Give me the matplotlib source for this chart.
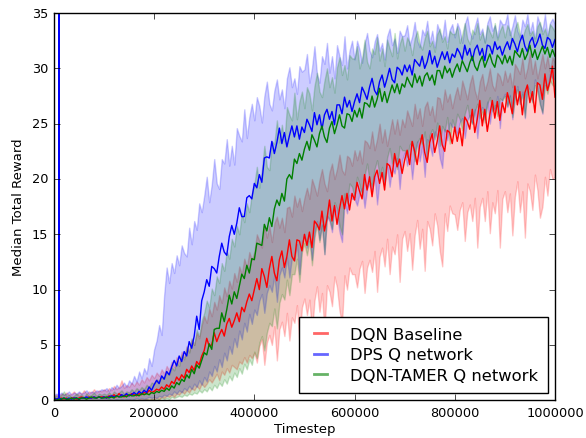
import numpy as np
import matplotlib
matplotlib.use('Agg')
import matplotlib.pyplot as plt
from matplotlib.lines import Line2D

# timesteps at which the median reward was logged (every 5000 steps)
timesteps = np.arange(0, 1000001, 5000)

# DQN Baseline (red): median and band
dqn_median = [
    0.0, 0.1, 0.1, 0.2, 0.1, 0.2, 0.1, 0.2, 0.2, 0.1, 0.2, 0.3, 0.2, 0.2, 0.3, 0.2, 0.3, 0.2, 0.3, 0.3,
    0.3, 0.2, 0.4, 0.3, 0.5, 0.3, 0.6, 0.4, 0.3, 0.5, 0.4, 0.6, 0.5, 0.4, 0.6, 0.5, 0.7, 0.6, 0.9, 0.7,
    0.8, 1.0, 0.9, 1.2, 1.0, 1.4, 1.2, 1.7, 1.5, 2.1, 1.8, 2.3, 2.0, 2.8, 2.5, 3.1, 2.7, 3.5, 3.2, 4.0,
    4.5, 5.6, 4.9, 5.0, 6.1, 5.3, 5.9, 6.4, 5.8, 6.9, 7.4, 6.6, 7.2, 7.9, 7.1, 8.4, 8.0, 8.9, 9.6, 9.0,
    10.0, 11.0, 10.0, 11.9, 11.2, 10.2, 11.9, 13.0, 11.5, 10.8, 12.7, 13.5, 12.0, 13.0, 14.5, 13.0, 12.6, 14.5, 14.4, 13.5,
    15.0, 14.0, 15.2, 13.8, 16.2, 15.9, 15.4, 17.1, 15.3, 16.4, 18.1, 16.2, 17.6, 15.9, 17.3, 18.5, 17.3, 18.7, 17.2, 18.7,
    18.1, 19.7, 18.9, 18.2, 20.4, 19.0, 20.2, 18.4, 20.2, 20.8, 19.6, 20.6, 19.0, 21.4, 21.2, 20.2, 22.3, 21.1, 21.8, 20.5,
    21.7, 22.6, 21.3, 23.4, 22.5, 21.3, 23.0, 24.0, 22.4, 21.5, 23.3, 24.1, 22.4, 23.4, 24.8, 23.1, 22.5, 24.4, 24.2, 23.2,
    24.7, 23.4, 24.6, 23.0, 25.6, 25.2, 24.5, 26.3, 24.2, 25.4, 27.1, 24.8, 26.3, 24.3, 25.8, 27.1, 25.5, 27.0, 25.3, 26.9,
    26.0, 27.8, 26.9, 25.9, 28.4, 26.7, 27.9, 25.8, 27.8, 28.5, 26.9, 27.9, 26.0, 28.7, 28.5, 27.2, 29.5, 28.0, 28.8, 30.2,
    27.4]
dqn_low = [
    0.0, 0.0, 0.0, 0.0, 0.0, 0.0, 0.0, 0.0, 0.0, 0.0, 0.0, 0.0, 0.0, 0.0, 0.0, 0.0, 0.0, 0.0, 0.0, 0.0,
    0.0, 0.0, 0.0, 0.0, 0.0, 0.0, 0.0, 0.0, 0.0, 0.0, 0.0, 0.0, 0.0, 0.0, 0.0, 0.1, 0.0, 0.1, 0.0, 0.1,
    0.1, 0.2, 0.1, 0.3, 0.2, 0.4, 0.3, 0.5, 0.3, 0.6, 0.5, 0.8, 0.6, 0.9, 0.7, 1.1, 0.9, 1.3, 1.0, 1.5,
    1.2, 1.5, 1.9, 1.6, 2.0, 2.4, 1.8, 2.6, 2.3, 2.9, 2.5, 3.2, 3.0, 2.8, 3.5, 3.3, 3.9, 3.4, 4.1, 3.8,
    4.3, 3.4, 4.9, 5.5, 3.2, 5.2, 5.9, 5.0, 6.7, 3.6, 6.4, 7.1, 5.8, 7.9, 5.4, 7.5, 7.0, 8.6, 5.1, 8.4,
    9.2, 7.7, 9.1, 6.1, 9.0, 10.3, 8.0, 9.7, 6.2, 10.4, 9.8, 8.5, 11.2, 10.2, 8.1, 6.9, 11.3, 10.0, 12.0, 11.4,
    11.4, 10.2, 11.9, 12.6, 9.7, 12.0, 12.7, 11.6, 13.5, 9.8, 13.0, 13.8, 12.1, 14.6, 11.4, 13.9, 13.2, 15.0, 10.7, 14.6,
    15.3, 13.5, 15.1, 11.8, 14.9, 16.3, 13.7, 15.5, 11.7, 16.2, 15.5, 14.0, 16.9, 15.8, 13.5, 12.1, 16.9, 15.3, 17.6, 16.9,
    16.8, 15.4, 17.2, 17.9, 14.4, 17.0, 17.7, 16.2, 18.3, 13.8, 17.5, 18.3, 16.2, 18.9, 15.1, 17.9, 16.9, 19.0, 13.8, 18.2,
    18.9, 17.0, 18.7, 14.9, 18.4, 19.8, 17.0, 18.9, 14.7, 19.6, 18.9, 17.2, 20.4, 19.0, 16.5, 17.5, 20.2, 18.5, 20.9, 20.0,
    20.2]
dqn_high = [
    0.4, 0.5, 0.4, 0.6, 0.5, 0.7, 0.5, 0.6, 0.8, 0.5, 0.7, 0.6, 0.9, 0.6, 0.8, 0.7, 1.0, 0.7, 0.9, 0.8,
    1.0, 0.8, 1.1, 0.9, 1.3, 1.0, 1.2, 1.8, 1.1, 1.4, 1.2, 1.6, 1.3, 1.7, 1.4, 1.9, 1.6, 2.1, 1.8, 2.3,
    2.0, 2.5, 2.2, 2.8, 2.4, 3.1, 2.7, 3.5, 3.0, 3.9, 3.4, 4.4, 3.9, 4.9, 4.4, 5.5, 5.0, 6.1, 5.6, 6.8,
    7.6, 7.0, 8.3, 7.6, 8.9, 8.2, 9.5, 8.8, 10.2, 9.4, 10.8, 10.1, 11.5, 10.7, 12.1, 11.4, 12.8, 12.0, 13.4, 12.7,
    13.4, 15.0, 14.4, 13.8, 15.9, 14.7, 15.8, 14.3, 16.0, 16.6, 15.6, 16.5, 15.2, 17.4, 17.5, 16.6, 18.5, 17.5, 18.3, 17.1,
    18.3, 19.2, 18.2, 20.0, 19.3, 18.5, 19.9, 20.9, 19.6, 18.9, 20.6, 21.4, 20.0, 20.9, 22.2, 20.8, 20.4, 22.1, 21.9, 21.2,
    22.6, 21.7, 22.6, 21.4, 23.5, 23.3, 22.8, 24.3, 22.6, 23.6, 25.0, 23.3, 24.5, 23.0, 24.2, 25.4, 24.1, 25.4, 24.0, 25.4,
    24.7, 26.2, 25.5, 24.8, 26.8, 25.5, 26.4, 24.8, 26.5, 27.0, 25.8, 26.6, 25.2, 27.4, 27.3, 26.3, 28.1, 27.0, 27.7, 26.4,
    27.5, 28.3, 27.2, 28.9, 28.1, 27.2, 28.6, 29.4, 28.0, 27.2, 28.8, 29.5, 28.0, 28.8, 30.0, 28.5, 28.0, 29.6, 29.3, 28.5,
    29.8, 28.8, 29.6, 28.3, 30.4, 30.0, 29.5, 30.9, 29.1, 30.0, 31.4, 29.5, 30.7, 29.1, 30.2, 31.3, 30.0, 31.1, 29.7, 31.0,
    30.5]

# DPS Q network (blue)
dps_median = [
    0.2, 0.1, 0.2, 0.1, 0.2, 0.1, 0.2, 0.1, 0.2, 0.2, 0.1, 0.2, 0.2, 0.3, 0.2, 0.2, 0.3, 0.2, 0.3, 0.2,
    0.3, 0.2, 0.3, 0.4, 0.3, 0.4, 0.3, 0.5, 0.4, 0.6, 0.4, 0.5, 0.7, 0.5, 0.8, 0.6, 0.9, 0.7, 1.2, 0.9,
    1.4, 1.8, 1.5, 2.2, 1.9, 2.6, 2.3, 3.0, 3.6, 3.1, 4.0, 3.5, 4.4, 4.0, 5.3, 4.7, 5.8, 7.6, 6.4, 9.0,
    9.8, 10.9, 10.3, 12.1, 11.9, 11.5, 13.0, 14.2, 13.4, 13.1, 14.8, 15.8, 15.0, 16.0, 17.4, 16.6, 16.6, 18.3, 18.5, 18.2,
    19.6, 19.2, 20.4, 19.7, 21.9, 22.0, 21.9, 23.4, 22.3, 23.3, 24.6, 23.2, 24.2, 22.9, 23.9, 24.8, 23.8, 24.8, 23.6, 24.7,
    24.2, 25.4, 24.9, 24.3, 26.0, 24.9, 25.8, 24.5, 25.8, 26.3, 25.4, 26.1, 24.9, 26.7, 26.7, 25.9, 27.4, 26.5, 27.1, 26.1,
    27.0, 27.7, 26.9, 28.3, 27.8, 27.2, 28.3, 29.1, 28.0, 27.6, 28.8, 29.4, 28.3, 29.1, 30.0, 29.0, 28.7, 30.1, 29.9, 29.4,
    30.3, 29.7, 30.3, 29.4, 30.8, 30.5, 30.2, 31.1, 30.0, 30.6, 31.6, 30.4, 31.1, 30.1, 30.8, 31.5, 30.8, 31.5, 30.5, 31.3,
    31.0, 31.8, 31.4, 30.8, 32.1, 31.2, 31.8, 30.7, 31.7, 32.1, 31.2, 31.8, 30.7, 32.1, 32.0, 31.3, 32.4, 31.7, 32.0, 31.2,
    31.9, 32.4, 31.7, 32.7, 32.2, 31.5, 32.4, 33.0, 32.0, 31.5, 32.4, 32.8, 31.9, 32.4, 33.1, 32.1, 31.8, 32.8, 32.6, 31.9,
    32.6]
dps_low = [
    0.0, 0.0, 0.0, 0.0, 0.0, 0.0, 0.0, 0.0, 0.0, 0.0, 0.0, 0.0, 0.0, 0.0, 0.0, 0.0, 0.0, 0.0, 0.0, 0.0,
    0.0, 0.0, 0.1, 0.0, 0.0, 0.1, 0.0, 0.1, 0.0, 0.1, 0.1, 0.0, 0.1, 0.2, 0.1, 0.2, 0.1, 0.2, 0.3, 0.2,
    0.3, 0.2, 0.4, 0.3, 0.5, 0.4, 0.6, 0.5, 0.8, 0.6, 0.9, 0.7, 1.1, 0.9, 1.3, 1.0, 1.5, 1.2, 1.8, 1.4,
    2.1, 1.7, 2.6, 2.2, 3.1, 2.6, 3.7, 3.0, 4.3, 3.6, 4.9, 4.2, 5.6, 4.8, 6.3, 5.5, 7.0, 6.2, 7.8, 6.9,
    8.2, 7.7, 9.0, 9.6, 7.9, 9.7, 10.4, 9.8, 11.3, 8.9, 11.3, 12.0, 11.1, 12.9, 11.1, 12.9, 12.6, 14.1, 11.4, 14.2,
    15.0, 13.8, 15.0, 12.7, 15.1, 16.2, 14.5, 15.9, 13.2, 16.6, 16.2, 15.2, 17.5, 16.8, 15.2, 14.3, 17.9, 16.9, 18.6, 18.2,
    18.2, 17.6, 18.7, 19.2, 17.4, 19.1, 19.6, 18.9, 20.3, 17.7, 20.0, 20.6, 19.5, 21.2, 19.3, 21.0, 20.5, 21.9, 19.1, 21.7,
    22.4, 21.2, 22.3, 20.0, 22.3, 23.4, 21.6, 23.0, 20.2, 23.6, 23.1, 22.1, 24.3, 23.6, 21.9, 21.0, 24.5, 23.5, 25.1, 24.7,
    24.7, 24.0, 25.1, 25.5, 23.7, 25.3, 25.8, 25.0, 26.3, 23.7, 26.0, 26.5, 25.4, 27.0, 25.0, 26.6, 26.2, 27.5, 24.6, 27.2,
    27.7, 26.5, 27.6, 25.4, 27.5, 28.4, 26.8, 27.9, 25.5, 28.4, 28.0, 27.0, 29.0, 28.2, 26.8, 25.9, 29.0, 28.1, 29.5, 29.1,
    29.0]
dps_high = [
    0.5, 0.6, 0.5, 0.7, 0.5, 0.6, 0.8, 0.5, 0.7, 0.6, 0.8, 0.6, 0.7, 0.9, 0.6, 0.8, 0.7, 0.9, 0.8, 1.0,
    0.9, 1.1, 0.8, 1.2, 1.0, 1.4, 1.1, 1.3, 1.6, 1.2, 1.8, 1.5, 2.2, 1.7, 2.6, 2.0, 2.9, 2.4, 3.8, 3.1,
    4.6, 5.4, 6.8, 5.9, 9.5, 12.0, 10.6, 12.4, 11.5, 13.1, 12.2, 14.0, 13.3, 13.0, 15.6, 14.1, 16.2, 15.4, 17.8, 17.0,
    18.5, 20.2, 17.9, 19.5, 21.8, 19.6, 19.1, 21.8, 21.4, 23.6, 21.2, 23.0, 21.3, 24.6, 23.9, 23.4, 26.3, 23.7, 25.6, 26.8,
    25.3, 27.4, 26.6, 25.1, 27.5, 28.8, 26.8, 26.2, 28.0, 29.0, 27.2, 28.1, 26.4, 29.1, 30.1, 28.3, 29.1, 27.7, 30.2, 29.7,
    29.9, 31.3, 28.7, 30.0, 32.0, 29.5, 28.7, 31.1, 30.4, 32.3, 29.6, 31.1, 29.1, 32.1, 31.1, 30.3, 32.9, 30.0, 31.6, 32.5,
    30.8, 32.5, 31.7, 30.5, 32.2, 33.2, 31.6, 31.0, 32.4, 33.1, 31.6, 32.3, 30.8, 32.9, 33.6, 32.1, 32.7, 31.4, 33.4, 32.9,
    33.0, 33.9, 32.1, 32.9, 34.2, 32.5, 31.9, 33.5, 33.0, 34.3, 32.3, 33.4, 31.9, 34.0, 33.3, 32.7, 34.4, 32.4, 33.5, 34.0,
    32.8, 34.1, 33.5, 32.3, 34.0, 34.7, 33.3, 32.7, 33.8, 34.6, 33.1, 33.6, 32.4, 34.1, 34.7, 33.4, 33.9, 32.8, 34.4, 34.0,
    34.0, 34.9, 33.0, 33.8, 34.8, 33.4, 32.8, 34.4, 33.8, 34.9, 33.2, 34.2, 32.7, 34.7, 34.0, 33.4, 34.9, 33.0, 34.1, 34.5,
    34.0]
# one logged reward spike early in the DPS run
dps_glitch_step = 10000
dps_glitch_reward = 5000.0

# DQN-TAMER Q network (green)
tamer_median = [
    0.1, 0.0, 0.1, 0.1, 0.2, 0.1, 0.1, 0.2, 0.1, 0.2, 0.1, 0.2, 0.2, 0.1, 0.2, 0.3, 0.2, 0.2, 0.3, 0.2,
    0.2, 0.3, 0.2, 0.3, 0.2, 0.4, 0.3, 0.3, 0.4, 0.3, 0.5, 0.4, 0.4, 0.5, 0.4, 0.6, 0.5, 0.6, 0.5, 0.7,
    0.6, 0.8, 0.7, 0.9, 0.8, 1.1, 0.9, 1.3, 1.1, 1.6, 1.4, 1.9, 1.7, 2.3, 2.0, 2.8, 2.4, 3.2, 2.9, 3.6,
    4.3, 4.1, 5.1, 4.6, 6.4, 6.5, 6.5, 7.9, 7.1, 8.2, 9.5, 8.7, 9.8, 9.2, 10.3, 11.4, 11.0, 12.2, 11.5, 12.8,
    12.7, 14.2, 14.1, 14.0, 15.9, 15.3, 16.5, 15.7, 17.3, 18.1, 17.6, 18.7, 18.0, 20.0, 20.4, 20.0, 21.8, 21.4, 22.3, 21.7,
    22.7, 23.4, 22.6, 24.0, 23.5, 22.9, 24.1, 24.8, 23.8, 23.3, 24.6, 25.2, 24.1, 24.9, 25.8, 24.8, 24.6, 25.9, 25.8, 25.2,
    26.2, 25.6, 26.4, 25.5, 26.9, 26.8, 26.5, 27.5, 26.5, 27.2, 28.2, 27.0, 27.9, 26.9, 27.7, 28.5, 27.8, 28.6, 27.7, 28.6,
    28.3, 29.2, 28.7, 28.3, 29.5, 28.7, 29.3, 28.4, 29.3, 29.6, 28.9, 29.4, 28.5, 29.8, 29.8, 29.1, 30.2, 29.6, 30.0, 29.2,
    29.9, 30.4, 29.7, 30.7, 30.2, 29.7, 30.5, 31.1, 30.2, 29.8, 30.6, 31.1, 30.1, 30.7, 31.3, 30.5, 30.1, 31.2, 30.9, 30.4,
    31.2, 30.5, 31.1, 30.3, 31.6, 31.3, 31.0, 31.8, 30.8, 31.3, 32.1, 31.0, 31.7, 30.8, 31.4, 32.0, 31.3, 31.9, 31.0, 31.7,
    31.1]
tamer_low = [
    0.0, 0.0, 0.0, 0.0, 0.0, 0.0, 0.0, 0.0, 0.0, 0.0, 0.0, 0.0, 0.0, 0.0, 0.0, 0.0, 0.0, 0.0, 0.0, 0.0,
    0.0, 0.0, 0.0, 0.0, 0.0, 0.0, 0.0, 0.0, 0.0, 0.0, 0.0, 0.0, 0.0, 0.0, 0.0, 0.0, 0.0, 0.1, 0.0, 0.1,
    0.1, 0.0, 0.1, 0.2, 0.1, 0.2, 0.1, 0.3, 0.2, 0.3, 0.4, 0.3, 0.5, 0.4, 0.6, 0.5, 0.7, 0.6, 0.9, 0.7,
    1.0, 0.8, 1.2, 0.9, 1.4, 1.1, 1.6, 1.3, 1.9, 1.5, 2.2, 1.8, 2.5, 2.1, 2.9, 2.4, 3.3, 2.8, 3.7, 3.2,
    4.4, 3.8, 5.2, 5.8, 4.5, 6.1, 7.0, 6.7, 8.3, 6.5, 8.8, 9.6, 9.1, 10.9, 9.5, 11.4, 11.4, 12.8, 10.7, 13.4,
    14.2, 13.1, 14.4, 12.2, 14.7, 15.9, 14.3, 15.8, 13.2, 16.7, 16.4, 15.5, 17.9, 17.3, 15.8, 15.0, 18.7, 17.8, 19.6, 19.3,
    18.4, 20.2, 19.5, 18.4, 20.3, 21.4, 19.8, 19.4, 20.9, 21.7, 20.3, 21.1, 19.7, 21.9, 22.8, 21.4, 22.0, 20.9, 23.0, 22.6,
    22.6, 22.0, 23.1, 23.4, 21.6, 23.3, 23.7, 23.1, 24.3, 21.8, 24.0, 24.5, 23.6, 25.1, 23.0, 24.8, 24.3, 25.6, 23.2, 25.4,
    24.6, 25.9, 25.4, 24.4, 25.9, 26.7, 25.4, 25.0, 26.1, 26.8, 25.5, 26.1, 25.1, 26.8, 27.4, 26.1, 26.7, 25.7, 27.3, 27.1,
    27.5, 26.6, 27.5, 25.6, 27.3, 28.1, 26.8, 27.7, 25.6, 28.1, 27.7, 26.9, 28.5, 27.9, 26.7, 26.0, 28.5, 27.7, 28.9, 28.5,
    28.3]
tamer_high = [
    0.3, 0.4, 0.3, 0.5, 0.8, 0.4, 0.5, 0.3, 0.4, 0.6, 0.4, 0.5, 0.3, 0.6, 0.4, 0.5, 0.7, 0.4, 0.6, 0.5,
    0.6, 0.5, 0.7, 0.5, 0.8, 0.6, 0.7, 0.9, 0.6, 0.8, 0.7, 1.0, 0.8, 1.1, 0.9, 1.2, 1.0, 1.4, 1.2, 1.6,
    1.5, 1.9, 1.7, 2.2, 2.0, 2.6, 2.3, 3.0, 2.7, 3.5, 3.1, 4.1, 3.7, 4.8, 4.3, 5.6, 5.0, 6.4, 5.8, 7.2,
    7.9, 9.0, 8.4, 10.1, 9.5, 11.2, 10.6, 12.4, 11.7, 13.5, 12.8, 14.6, 13.9, 15.8, 15.0, 16.9, 16.1, 17.8, 17.0, 18.7,
    19.5, 21.1, 19.2, 20.8, 23.0, 21.1, 20.8, 23.4, 23.2, 25.3, 23.3, 24.9, 23.4, 26.5, 25.8, 25.3, 27.8, 25.4, 27.0, 27.9,
    26.4, 28.3, 27.7, 26.2, 28.4, 29.6, 27.9, 27.4, 28.9, 30.0, 28.3, 29.2, 27.8, 30.1, 31.0, 29.4, 30.3, 29.0, 31.2, 30.9,
    30.9, 32.0, 30.0, 30.9, 32.6, 30.6, 30.0, 31.8, 31.3, 32.8, 30.7, 31.8, 30.2, 32.6, 31.8, 31.1, 33.2, 30.9, 32.2, 32.9,
    31.6, 32.8, 32.3, 31.2, 32.7, 33.4, 32.2, 31.7, 32.7, 33.4, 32.0, 32.5, 31.5, 33.1, 33.6, 32.4, 32.9, 31.8, 33.4, 33.1,
    33.1, 33.8, 32.3, 33.1, 34.1, 32.7, 32.2, 33.5, 33.1, 34.1, 32.6, 33.3, 32.3, 33.9, 33.3, 32.8, 34.1, 32.6, 33.4, 33.9,
    32.8, 33.9, 33.4, 32.4, 33.6, 34.2, 33.1, 32.7, 33.5, 34.0, 33.0, 33.4, 32.5, 33.8, 34.2, 33.1, 33.6, 32.7, 34.0, 33.7,
    33.3]

labels = ['DQN Baseline', 'DPS Q network', 'DQN-TAMER Q network']
colors = ['r', 'b', 'g']

plt.style.use('classic')
fig = plt.figure(figsize=(5.86, 4.39), dpi=100, facecolor='white')
ax = fig.add_axes([0.092, 0.086, 0.855, 0.882])

series = [(dqn_median, dqn_low, dqn_high),
          (dps_median, dps_low, dps_high),
          (tamer_median, tamer_low, tamer_high)]

for (med, lo, hi), c in zip(series, colors):
    ax.fill_between(timesteps, lo, hi, color=c, alpha=0.2)

for (med, lo, hi), c in zip(series, colors):
    x = timesteps
    y = np.array(med)
    if c == 'b':
        # reward spike logged at one step -> vertical excursion
        i = int(np.searchsorted(timesteps, dps_glitch_step))
        x = np.insert(timesteps, i + 1, [dps_glitch_step, dps_glitch_step])
        y = np.insert(y, i + 1, [dps_glitch_reward, y[i]])
    ax.plot(x, y, color=c, linewidth=1.0)

ax.set_xlim(0, 1000000)
ax.set_ylim(0, 35)
ax.set_xticks([0, 200000, 400000, 600000, 800000, 1000000])
ax.set_yticks(range(0, 36, 5))
ax.tick_params(labelsize=9.3)
ax.set_xlabel('Timestep', fontsize=9.5, labelpad=2)
ax.set_ylabel('Median Total Reward', fontsize=9.5)

handles = [Line2D([], [], color=c, linewidth=2, alpha=0.6) for c in colors]
ax.legend(handles, labels, loc='lower right', fontsize=11.8,
          handlelength=1.45, handletextpad=1.05, labelspacing=0.35,
          borderpad=0.6, borderaxespad=0.45, fancybox=False)

fig.savefig('out.png', dpi=100, facecolor='white')
